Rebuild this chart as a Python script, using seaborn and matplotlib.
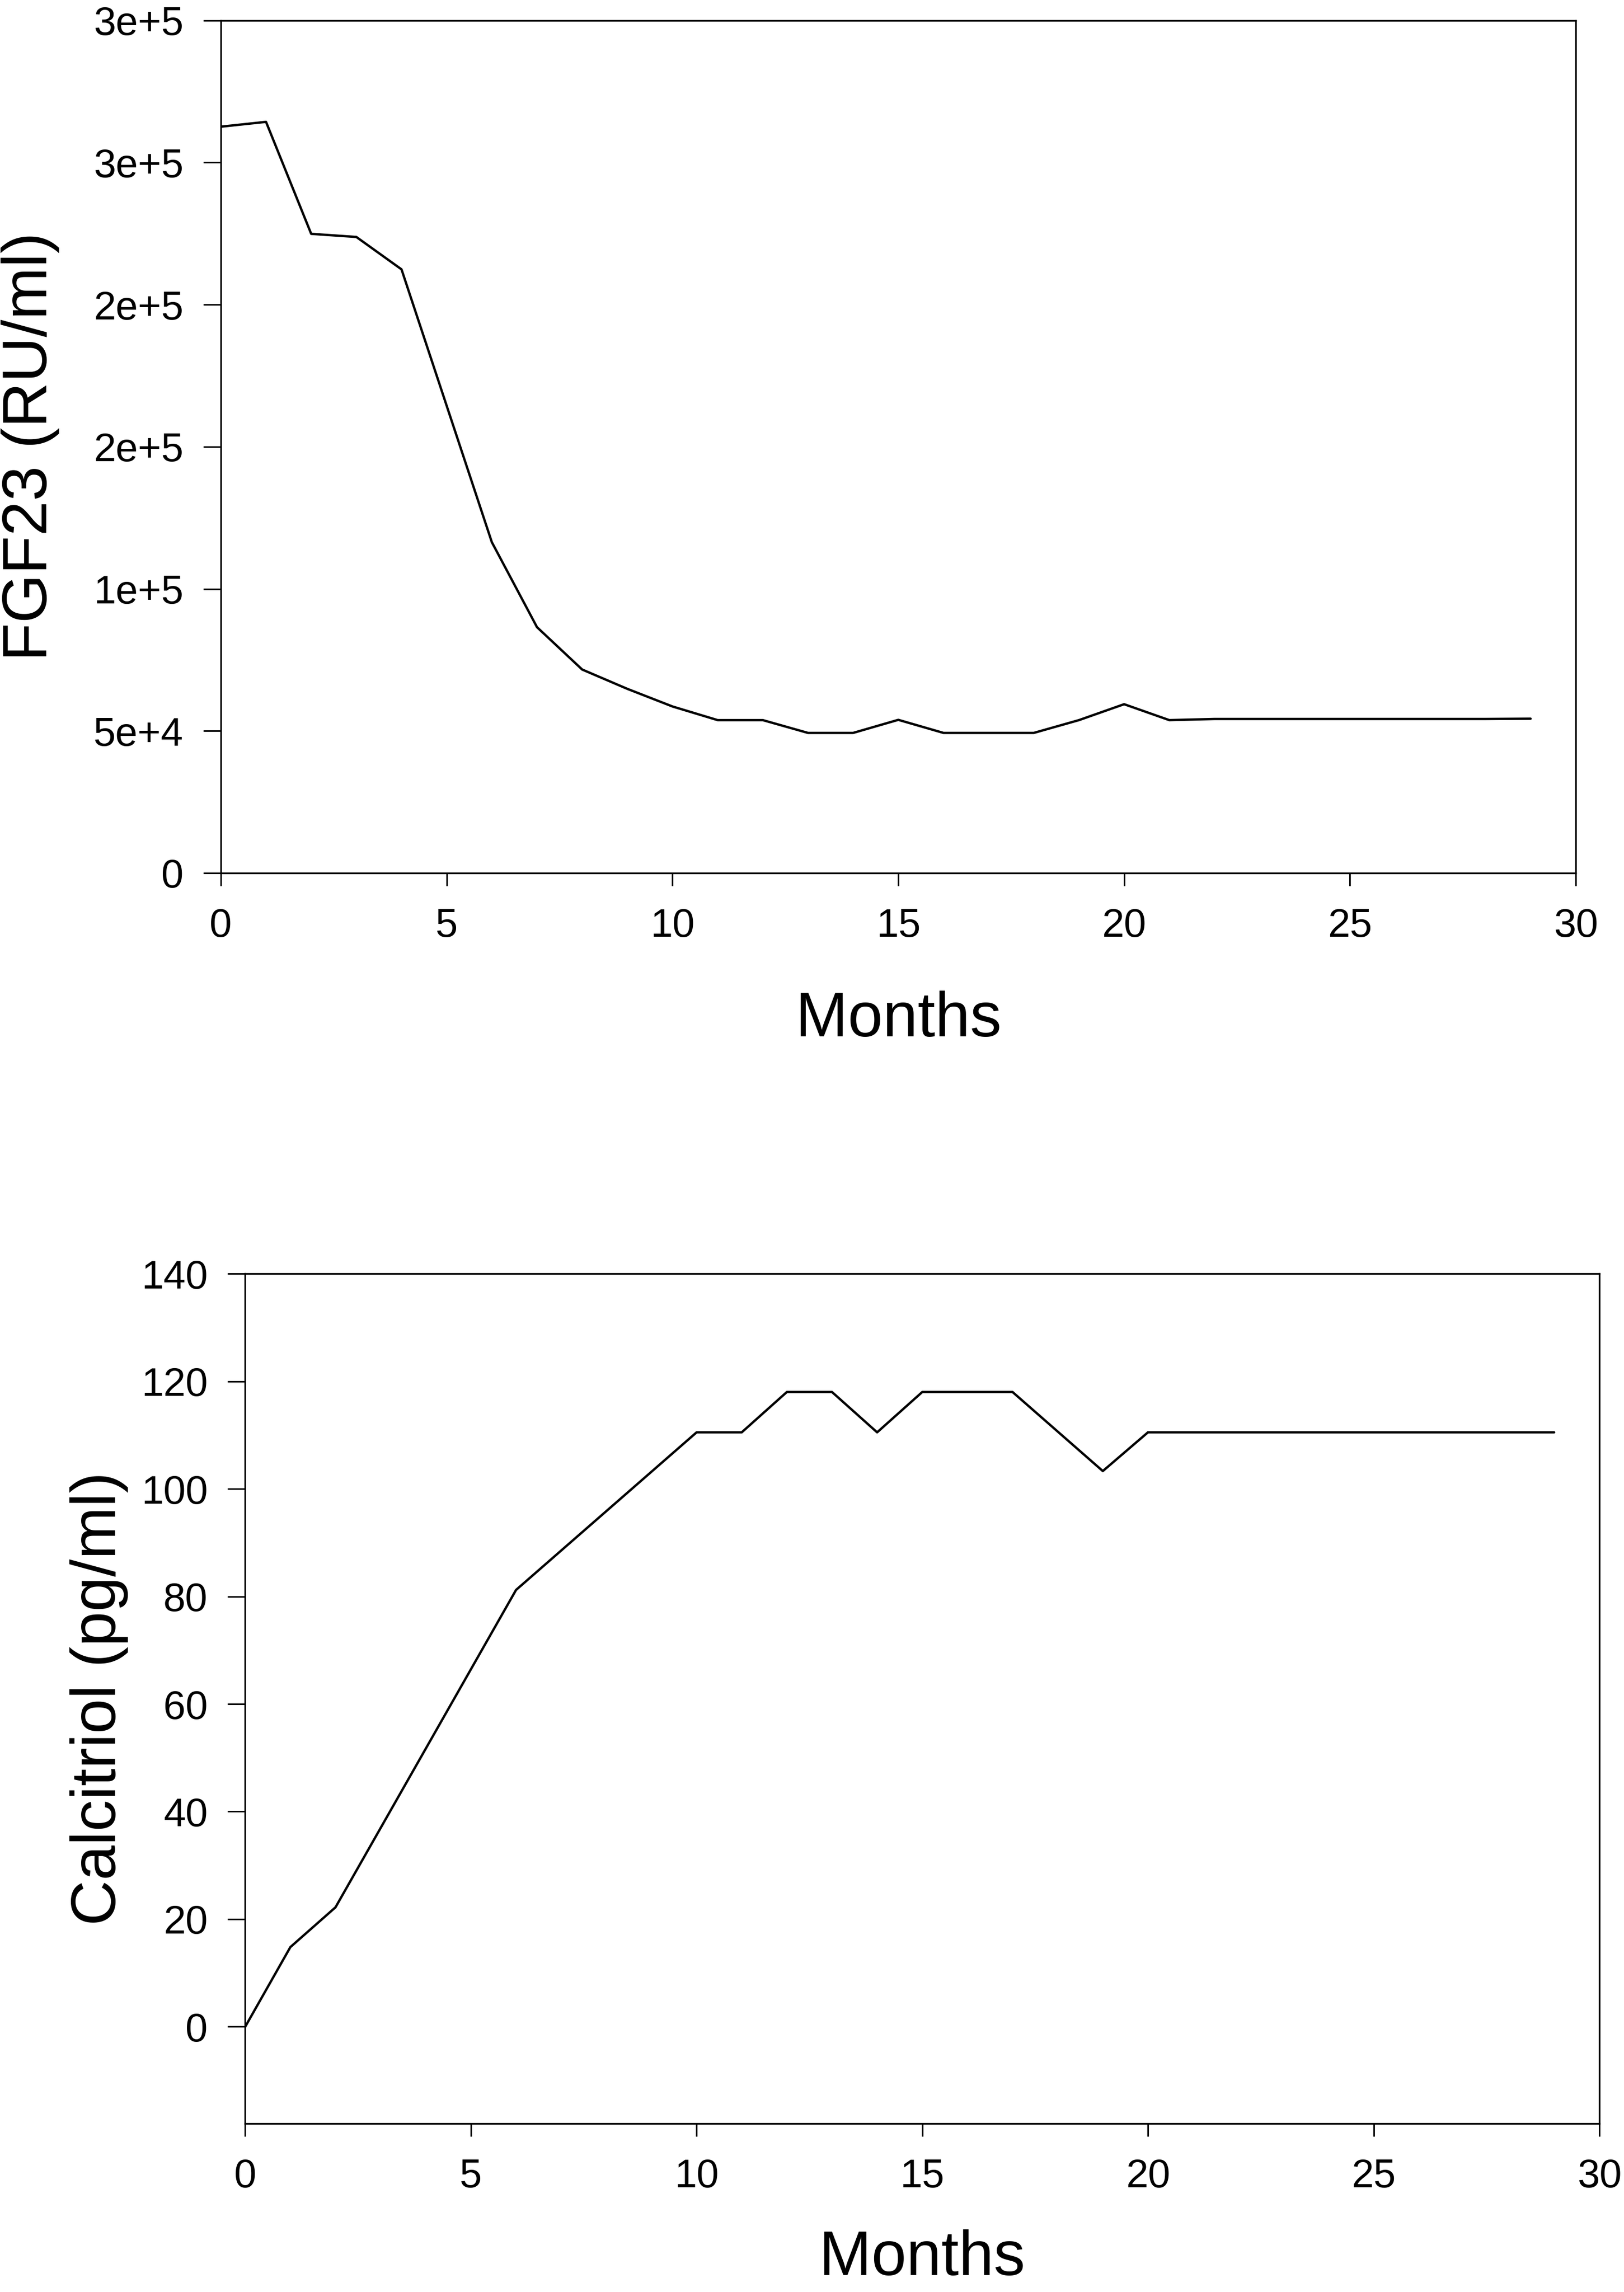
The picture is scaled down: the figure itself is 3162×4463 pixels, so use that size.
import pandas as pd
import matplotlib.pyplot as plt
import seaborn as sns

# values
fgf_months = [0, 1, 2, 3, 4, 5, 6, 7, 8, 9, 10, 11, 12, 13, 14, 15, 16, 17, 18, 19, 20, 21, 22, 28, 29]
fgf_values = [262600, 264300, 224900, 223800, 212400, 164400, 116400, 86500, 71600, 64800,
              58600, 53800, 53800, 49300, 49300, 53900, 49300, 49300, 49300, 53800,
              59400, 53800, 54200, 54200, 54300]

cal_months = [0, 1, 2, 6, 10, 11, 12, 13, 14, 15, 16, 17, 19, 20, 29]
cal_values = [0, 14.8, 22.2, 81.2, 110.5, 110.5, 118, 118, 110.5, 118, 118, 118, 103.3, 110.5, 110.5]

x_ticks = [0, 5, 10, 15, 20, 25, 30]
fgf_ticks = [0, 50000, 100000, 150000, 200000, 250000, 300000]
fgf_tick_labels = ['0', '5e+4', '1e+5', '2e+5', '2e+5', '3e+5', '3e+5']
cal_ticks = [0, 20, 40, 60, 80, 100, 120, 140]

df_fgf = pd.DataFrame({'Months': fgf_months, 'FGF23': fgf_values})
df_cal = pd.DataFrame({'Months': cal_months, 'Calcitriol': cal_values})

sns.set_theme(style='ticks')
plt.rcParams['font.family'] = ['Liberation Sans', 'DejaVu Sans']
plt.rcParams['axes.edgecolor'] = 'black'
plt.rcParams['axes.labelcolor'] = 'black'
plt.rcParams['text.color'] = 'black'
plt.rcParams['axes.linewidth'] = 2.4

fig = plt.figure(figsize=(31.62, 44.63), dpi=100)
ax1 = fig.add_axes([0.136, 0.6191, 0.8343, 0.3720])
ax2 = fig.add_axes([0.151, 0.0735, 0.8338, 0.3708])

sns.lineplot(data=df_fgf, x='Months', y='FGF23', ax=ax1, color='black', linewidth=3.3)
sns.lineplot(data=df_cal, x='Months', y='Calcitriol', ax=ax2, color='black', linewidth=3.3)

# top panel
ax1.set_xlim(0, 30)
ax1.set_ylim(0, 300000)
ax1.set_xticks(x_ticks)
ax1.set_yticks(fgf_ticks)
ax1.set_yticklabels(fgf_tick_labels)
ax1.set_xlabel('Months', fontsize=88, labelpad=64)
ax1.set_ylabel('FGF23 (RU/ml)', fontsize=88)
ax1.yaxis.set_label_coords(-0.119, 0.5)

# bottom panel
ax2.set_xlim(0, 30)
ax2.set_ylim(-18, 140)
ax2.set_xticks(x_ticks)
ax2.set_yticks(cal_ticks)
ax2.set_xlabel('Months', fontsize=88, labelpad=48)
ax2.set_ylabel('Calcitriol (pg/ml)', fontsize=88)
ax2.yaxis.set_label_coords(-0.0863, 0.5)

for ax in (ax1, ax2):
    for s in ax.spines.values():
        s.set_visible(True)
        s.set_color('black')
        s.set_linewidth(2.4)
    ax.tick_params(axis='x', direction='out', length=18, width=2.2, pad=30,
                   labelsize=56, colors='black')
    ax.tick_params(axis='y', direction='out', length=24.5, width=2.2, pad=28,
                   labelsize=56, colors='black')

fig.savefig('out.png', dpi=100, facecolor='white')
